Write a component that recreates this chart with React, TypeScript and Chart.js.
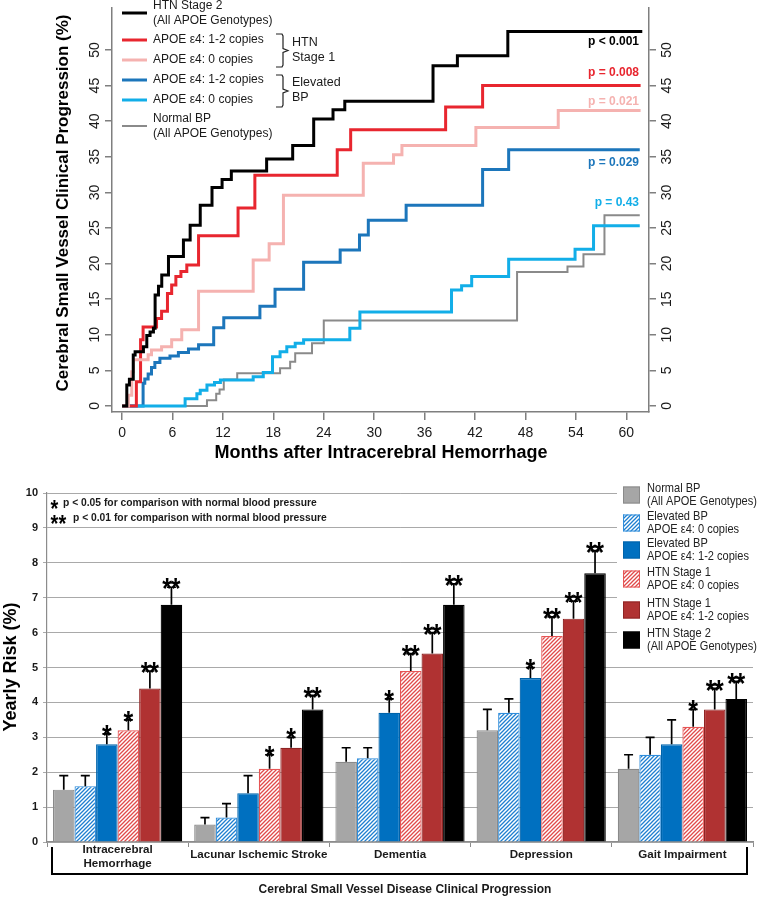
import React, { useEffect, useRef } from 'react';
import { Chart, registerables } from 'chart.js';

Chart.register(...registerables);

const FONT = 'Arial, "Liberation Sans", Helvetica, sans-serif';
const W = 764;
const H = 899;
const TOP_H = 470;
const BOT_H = H - TOP_H;

// ---------------- Top panel (cumulative progression, step curves) ----------------
const monthTicks = [0, 6, 12, 18, 24, 30, 36, 42, 48, 54, 60];
const pctTicks = [0, 5, 10, 15, 20, 25, 30, 35, 40, 45, 50];

const htn2Months = [0, 0.56, 0.87, 1.33, 1.55, 2.54, 2.94, 3.33, 3.73, 3.93, 4.33, 4.72, 5.52, 7.3, 8.1, 9.3, 10.7, 11.9, 13.0, 17.2, 20.3, 22.8, 25.1, 26.5, 37.0, 39.9, 45.9, 61.9];
const htn2Pct = [0, 2.95, 3.75, 7.16, 7.6, 8.3, 9.9, 10.4, 10.9, 15.6, 16.8, 18.4, 21.0, 23.3, 25.4, 28.2, 30.7, 31.8, 33.0, 34.7, 36.6, 40.3, 41.6, 42.8, 47.8, 49.2, 52.6, 52.6];

const htn1CarMonths = [0, 1.7, 2.2, 2.5, 4.1, 4.7, 5.4, 5.9, 6.4, 7.0, 7.7, 9.1, 13.8, 15.8, 25.6, 27.2, 38.5, 42.9, 61.7];
const htn1CarPct = [0, 3.4, 9.3, 11.1, 12.3, 13.3, 15.8, 17.0, 18.2, 18.9, 19.8, 23.9, 27.8, 32.4, 36.0, 38.8, 42.0, 45.0, 45.0];

const htn1NonMonths = [0, 0.75, 1.15, 1.35, 3.1, 3.5, 4.7, 5.9, 7.1, 9.1, 15.6, 17.5, 19.2, 28.7, 32.3, 33.3, 42.1, 51.9, 61.7];
const htn1NonPct = [0, 1.5, 4.8, 6.5, 7.2, 7.85, 8.3, 9.3, 10.7, 16.1, 20.5, 22.8, 29.6, 34.1, 35.3, 36.6, 39.1, 41.5, 41.5];

const elevCarMonths = [0, 2.5, 2.7, 3.1, 3.5, 3.9, 4.5, 5.7, 6.7, 7.9, 9.1, 10.9, 12.1, 16.4, 18.2, 21.6, 25.95, 28.25, 29.3, 33.8, 42.9, 46.0, 61.6];
const elevCarPct = [0, 3.2, 3.8, 4.5, 5.4, 6.1, 6.7, 7.0, 7.5, 8.0, 8.6, 11.0, 12.4, 14.0, 16.4, 20.2, 21.9, 24.0, 26.1, 28.2, 33.2, 36.0, 36.0];

const elevNonMonths = [0, 7.5, 8.9, 9.3, 10.1, 11.0, 11.7, 15.6, 16.8, 17.9, 18.8, 19.6, 20.6, 21.6, 27.1, 28.3, 39.2, 40.4, 41.6, 46.0, 53.9, 56.1, 61.6];
const elevNonPct = [0, 1.0, 1.7, 2.2, 2.95, 3.3, 3.65, 4.1, 4.7, 6.9, 7.6, 8.3, 8.8, 9.3, 10.9, 13.2, 16.3, 16.9, 18.2, 20.6, 22.0, 25.3, 25.3];

const normalMonths = [0, 10.1, 11.2, 11.6, 12.1, 13.7, 18.8, 20.0, 20.6, 22.6, 24.0, 47.0, 53.0, 54.9, 57.4, 61.6];
const normalPct = [0, 0.8, 1.7, 2.3, 3.7, 4.6, 5.3, 6.2, 7.4, 8.8, 12.0, 18.8, 19.6, 21.3, 26.8, 26.8];

const C_BLACK = '#000000';
const C_RED = '#e8262f';
const C_PINK = '#f5b2b0';
const C_DBLUE = '#1c76bb';
const C_LBLUE = '#12aee8';
const C_GRAY = '#8a8a8a';

const topLegendLabels = [
  ['HTN Stage 2', '(All APOE Genotypes)'],
  ['APOE ε4: 1-2 copies'],
  ['APOE ε4: 0 copies'],
  ['APOE ε4: 1-2 copies'],
  ['APOE ε4: 0 copies'],
  ['Normal BP', '(All APOE Genotypes)'],
];
const topLegendColors = [C_BLACK, C_RED, C_PINK, C_DBLUE, C_LBLUE, C_GRAY];
const pValueLabels = ['p < 0.001', 'p = 0.008', 'p = 0.021', 'p = 0.029', 'p = 0.43'];
const pValueColors = [C_BLACK, C_RED, C_PINK, C_DBLUE, C_LBLUE];

// ---------------- Bottom panel (yearly risk bars) ----------------
const categories = ['Intracerebral Hemorrhage', 'Lacunar Ischemic Stroke', 'Dementia', 'Depression', 'Gait Impairment'];
const categoryLines = [['Intracerebral', 'Hemorrhage'], ['Lacunar Ischemic Stroke'], ['Dementia'], ['Depression'], ['Gait Impairment']];
const riskTicks = [0, 1, 2, 3, 4, 5, 6, 7, 8, 9, 10];

const normalRisk = [1.5, 0.5, 2.3, 3.2, 2.1];
const normalErr = [1.9, 0.7, 2.7, 3.8, 2.5];
const elevNonRisk = [1.6, 0.7, 2.4, 3.7, 2.5];
const elevNonErr = [1.9, 1.1, 2.7, 4.1, 3.0];
const elevCarRisk = [2.8, 1.4, 3.7, 4.7, 2.8];
const elevCarErr = [3.1, 1.9, 4.1, 5.0, 3.5];
const htn1NonRisk = [3.2, 2.1, 4.9, 5.9, 3.3];
const htn1NonErr = [3.5, 2.5, 5.4, 6.45, 3.8];
const htn1CarRisk = [4.4, 2.7, 5.4, 6.4, 3.8];
const htn1CarErr = [4.9, 3.0, 6.0, 6.9, 4.4];
const htn2Risk = [6.8, 3.8, 6.8, 7.7, 4.1];
const htn2Err = [7.3, 4.2, 7.4, 8.35, 4.6];

const normalSig = ['', '', '', '', ''];
const elevNonSig = ['', '', '', '', ''];
const elevCarSig = ['*', '', '*', '*', ''];
const htn1NonSig = ['*', '*', '**', '**', '*'];
const htn1CarSig = ['**', '*', '**', '**', '**'];
const htn2Sig = ['**', '**', '**', '**', '**'];

const barLegendLabels = [
  ['Normal BP', '(All APOE Genotypes)'],
  ['Elevated BP', 'APOE ε4: 0 copies'],
  ['Elevated BP', 'APOE ε4: 1-2 copies'],
  ['HTN Stage 1', 'APOE ε4: 0 copies'],
  ['HTN Stage 1', 'APOE ε4: 1-2 copies'],
  ['HTN Stage 2', '(All APOE Genotypes)'],
];
const noteStars = ['*', '**'];
const noteLines = ['p < 0.05 for comparison with normal blood pressure', 'p < 0.01 for comparison with normal blood pressure'];

function zip(xs: number[], ys: number[]) {
  return xs.map((x, i) => ({ x, y: ys[i] }));
}

function rotText(ctx: CanvasRenderingContext2D, text: string, x: number, y: number) {
  ctx.save();
  ctx.translate(x, y);
  ctx.rotate(-Math.PI / 2);
  ctx.textAlign = 'center';
  ctx.textBaseline = 'middle';
  ctx.fillText(text, 0, 0);
  ctx.restore();
}

// asterisk marks: each glyph drawn on its own, (cx, bottom) = centre-bottom of the group
function drawStars(ctx: CanvasRenderingContext2D, s: string, cx: number, bottom: number, size: number, gap: number) {
  const n = s.length;
  ctx.save();
  ctx.font = `bold ${size}px ${FONT}`;
  ctx.textAlign = 'center';
  ctx.textBaseline = 'alphabetic';
  ctx.fillStyle = '#000';
  const sy = 1.2;
  for (let k = 0; k < n; k++) {
    const x = cx + (k - (n - 1) / 2) * gap;
    ctx.save();
    ctx.translate(x, bottom + 0.42 * size * sy);
    ctx.scale(1, sy);
    ctx.fillText('*', 0, 0);
    ctx.restore();
  }
  ctx.restore();
}

function makeHatch(ctx: CanvasRenderingContext2D, color: string) {
  const s = 4;
  const c = document.createElement('canvas');
  c.width = s;
  c.height = s;
  const g = c.getContext('2d')!;
  g.fillStyle = '#ffffff';
  g.fillRect(0, 0, s, s);
  g.strokeStyle = color;
  g.lineWidth = 1.3;
  g.beginPath();
  g.moveTo(-1, s + 1);
  g.lineTo(s + 1, -1);
  g.moveTo(-1, 1);
  g.lineTo(1, -1);
  g.moveTo(s - 1, s + 1);
  g.lineTo(s + 1, s - 1);
  g.stroke();
  return ctx.createPattern(c, 'repeat')!;
}

const topDecor = {
  id: 'topDecor',
  afterDraw(chart: any) {
    const { ctx, scales } = chart;
    const xs = scales.x;
    const ys = scales.y;
    ctx.save();
    ctx.fillStyle = '#1a1a1a';
    ctx.font = `14px ${FONT}`;
    for (const t of ys.ticks) {
      const y = ys.getPixelForValue(t.value);
      rotText(ctx, String(t.value), 95, y);
      rotText(ctx, String(t.value), 667, y);
    }
    ctx.textAlign = 'center';
    ctx.textBaseline = 'middle';
    for (const t of xs.ticks) {
      ctx.fillText(String(t.value), xs.getPixelForValue(t.value), 433);
    }
    ctx.fillStyle = '#000';
    ctx.font = `bold 18px ${FONT}`;
    ctx.fillText('Months after Intracerebral Hemorrhage', 381, 453);
    ctx.font = `bold 17px ${FONT}`;
    rotText(ctx, 'Cerebral Small Vessel Clinical Progression (%)', 63, 203);

    // legend
    const rows = [13, 40, 60, 80, 100, 126];
    ctx.font = `12px ${FONT}`;
    ctx.textAlign = 'left';
    ctx.textBaseline = 'middle';
    topLegendLabels.forEach((lines, i) => {
      const y = rows[i];
      ctx.strokeStyle = topLegendColors[i];
      ctx.lineWidth = i === 5 ? 2 : 3;
      ctx.beginPath();
      ctx.moveTo(122, y);
      ctx.lineTo(147, y);
      ctx.stroke();
      ctx.fillStyle = '#1a1a1a';
      if (lines.length === 1) ctx.fillText(lines[0], 153, y);
      else {
        ctx.fillText(lines[0], 153, y - 7.5);
        ctx.fillText(lines[1], 153, y + 7.5);
      }
    });
    // braces
    const brace = (y0: number, y1: number) => {
      const ym = (y0 + y1) / 2;
      ctx.strokeStyle = '#222';
      ctx.lineWidth = 1.2;
      ctx.beginPath();
      ctx.moveTo(276, y0);
      ctx.lineTo(282, y0);
      ctx.lineTo(283, y0 + 2);
      ctx.lineTo(283, ym - 2);
      ctx.lineTo(288, ym);
      ctx.lineTo(283, ym + 2);
      ctx.lineTo(283, y1 - 2);
      ctx.lineTo(282, y1);
      ctx.lineTo(276, y1);
      ctx.stroke();
    };
    brace(34, 67);
    brace(75, 107);
    ctx.fillStyle = '#1a1a1a';
    ctx.font = `12.5px ${FONT}`;
    ctx.fillText('HTN', 292, 43);
    ctx.fillText('Stage 1', 292, 58);
    ctx.fillText('Elevated', 292, 83);
    ctx.fillText('BP', 292, 98);

    // p-values
    const pY = [42, 73, 102, 163, 203];
    ctx.font = `bold 12px ${FONT}`;
    ctx.textAlign = 'right';
    pValueLabels.forEach((p, i) => {
      ctx.fillStyle = pValueColors[i];
      ctx.fillText(p, 639, pY[i]);
    });
    ctx.restore();
  },
};

const barDecor = {
  id: 'barDecor',
  afterDatasetsDraw(chart: any) {
    const { ctx, scales } = chart;
    const ys = scales.y;
    ctx.save();
    chart.data.datasets.forEach((ds: any, i: number) => {
      const meta = chart.getDatasetMeta(i);
      meta.data.forEach((bar: any, j: number) => {
        const x = bar.x;
        const yTop = ys.getPixelForValue(ds.data[j]);
        const yErr = ys.getPixelForValue(ds.errHigh[j]);
        ctx.strokeStyle = '#000';
        ctx.lineWidth = 1.7;
        ctx.beginPath();
        ctx.moveTo(x, yTop);
        ctx.lineTo(x, yErr);
        ctx.moveTo(x - 4.5, yErr);
        ctx.lineTo(x + 4.5, yErr);
        ctx.stroke();
        const s = ds.sig[j];
        if (s) drawStars(ctx, s, x, yErr - 1.5, 25, 8.4);
      });
    });
    ctx.restore();
  },
  afterDraw(chart: any) {
    const { ctx, scales } = chart;
    const xs = scales.x;
    const ys = scales.y;
    ctx.save();
    // y tick labels
    ctx.fillStyle = '#1a1a1a';
    ctx.font = `bold 11px ${FONT}`;
    ctx.textAlign = 'right';
    ctx.textBaseline = 'middle';
    for (const t of ys.ticks) ctx.fillText(String(t.value), 38, ys.getPixelForValue(t.value));
    // y title
    ctx.fillStyle = '#000';
    ctx.font = `bold 18px ${FONT}`;
    rotText(ctx, 'Yearly Risk (%)', 11, 197);
    // category labels
    ctx.font = `bold 11.6px ${FONT}`;
    ctx.textAlign = 'center';
    ctx.textBaseline = 'middle';
    ctx.fillStyle = '#1a1a1a';
    categoryLines.forEach((lines, j) => {
      const x = xs.getPixelForValue(j);
      if (lines.length === 1) ctx.fillText(lines[0], x, 385);
      else {
        ctx.fillText(lines[0], x, 380);
        ctx.fillText(lines[1], x, 394);
      }
    });
    // bracket
    ctx.strokeStyle = '#000';
    ctx.lineWidth = 2;
    ctx.beginPath();
    ctx.moveTo(52, 377);
    ctx.lineTo(52, 404);
    ctx.lineTo(747, 404);
    ctx.lineTo(747, 377);
    ctx.stroke();
    ctx.font = `bold 12px ${FONT}`;
    ctx.fillText('Cerebral Small Vessel Disease Clinical Progression', 405, 420);

    // significance note
    drawStars(ctx, noteStars[0], 54.5, 37, 20, 8);
    drawStars(ctx, noteStars[1], 58.5, 52, 20, 8);
    ctx.fillStyle = '#1a1a1a';
    ctx.textAlign = 'left';
    ctx.textBaseline = 'middle';
    ctx.font = `bold 10.3px ${FONT}`;
    ctx.fillText(noteLines[0], 63, 33);
    ctx.fillText(noteLines[1], 73, 48);

    // legend
    ctx.fillStyle = '#ffffff';
    ctx.fillRect(617, 10, 147, 176);
    const rows = [25, 53, 80, 109, 140, 170];
    chart.data.datasets.forEach((ds: any, i: number) => {
      const y = rows[i];
      ctx.fillStyle = ds.backgroundColor;
      ctx.fillRect(623, y - 8.5, 17, 17);
      ctx.strokeStyle = ds.borderColor;
      ctx.lineWidth = 1;
      ctx.strokeRect(623.5, y - 8, 16, 16);
      const lines = barLegendLabels[i];
      ctx.save();
      ctx.translate(647, y);
      ctx.scale(0.85, 1);
      ctx.fillStyle = '#222';
      ctx.font = `13px ${FONT}`;
      ctx.textAlign = 'left';
      ctx.textBaseline = 'middle';
      ctx.fillText(lines[0], 0, -6.5);
      ctx.fillText(lines[1], 0, 6.5);
      ctx.restore();
    });
    ctx.restore();
  },
};

export default function App() {
  const topRef = useRef<HTMLCanvasElement>(null);
  const botRef = useRef<HTMLCanvasElement>(null);

  useEffect(() => {
    const axisGray = '#7f7f7f';
    const topSeries = [
      { label: 'HTN Stage 2', m: htn2Months, p: htn2Pct, color: C_BLACK, w: 3 },
      { label: 'HTN Stage 1, APOE ε4: 0 copies', m: htn1NonMonths, p: htn1NonPct, color: C_PINK, w: 3 },
      { label: 'HTN Stage 1, APOE ε4: 1-2 copies', m: htn1CarMonths, p: htn1CarPct, color: C_RED, w: 3 },
      { label: 'Elevated BP, APOE ε4: 0 copies', m: elevNonMonths, p: elevNonPct, color: C_LBLUE, w: 3 },
      { label: 'Elevated BP, APOE ε4: 1-2 copies', m: elevCarMonths, p: elevCarPct, color: C_DBLUE, w: 3 },
      { label: 'Normal BP', m: normalMonths, p: normalPct, color: C_GRAY, w: 2 },
    ];
    const rAxis = (pos: string, width: number) => ({
      type: 'linear',
      position: pos,
      min: -0.85,
      max: 55.9,
      afterBuildTicks: (s: any) => {
        s.ticks = pctTicks.map((v) => ({ value: v }));
      },
      afterFit: (s: any) => {
        s.width = width;
      },
      ticks: { display: false },
      grid: { drawOnChartArea: false, drawTicks: true, tickLength: 7, color: axisGray, lineWidth: 1.5 },
      border: { display: true, color: axisGray, width: 1.5 },
    });
    const top = new Chart(topRef.current!, {
      type: 'line',
      data: {
        datasets: topSeries.map((s) => ({
          label: s.label,
          data: zip(s.m, s.p),
          borderColor: s.color,
          backgroundColor: s.color,
          borderWidth: s.w,
          stepped: true,
          pointRadius: 0,
          fill: false,
          tension: 0,
          borderCapStyle: 'butt',
          borderJoinStyle: 'miter',
        })),
      },
      options: {
        responsive: false,
        animation: false,
        events: [],
        devicePixelRatio: 1,
        layout: { padding: { top: 8, left: 0, right: 0, bottom: 0 } },
        plugins: { legend: { display: false }, tooltip: { enabled: false } },
        scales: {
          x: {
            type: 'linear',
            min: -1.2,
            max: 62.7,
            afterBuildTicks: (s: any) => {
              s.ticks = monthTicks.map((v) => ({ value: v }));
            },
            afterFit: (s: any) => {
              s.height = TOP_H - 412;
            },
            ticks: { display: false },
            grid: { drawOnChartArea: false, drawTicks: true, tickLength: 8, color: axisGray, lineWidth: 1.5 },
            border: { display: true, color: axisGray, width: 1.5 },
          },
          y: rAxis('left', 112),
          y2: rAxis('right', W - 649),
        },
      } as any,
      plugins: [topDecor],
    } as any);

    const ctx = botRef.current!.getContext('2d')!;
    const blueHatch = makeHatch(ctx, '#1f7fd0');
    const redHatch = makeHatch(ctx, '#e04a4a');
    const barSeries = [
      { values: normalRisk, err: normalErr, sig: normalSig, fill: '#a6a6a6', border: '#8a8a8a' },
      { values: elevNonRisk, err: elevNonErr, sig: elevNonSig, fill: blueHatch, border: '#2f8ddb' },
      { values: elevCarRisk, err: elevCarErr, sig: elevCarSig, fill: '#0070c0', border: '#0063aa' },
      { values: htn1NonRisk, err: htn1NonErr, sig: htn1NonSig, fill: redHatch, border: '#e65555' },
      { values: htn1CarRisk, err: htn1CarErr, sig: htn1CarSig, fill: '#b03232', border: '#8e2424' },
      { values: htn2Risk, err: htn2Err, sig: htn2Sig, fill: '#000000', border: '#000000' },
    ];
    const bot = new Chart(botRef.current!, {
      type: 'bar',
      data: {
        labels: categories,
        datasets: barSeries.map((s, i) => ({
          label: barLegendLabels[i].join(' '),
          data: s.values,
          errHigh: s.err,
          sig: s.sig,
          backgroundColor: s.fill,
          borderColor: s.border,
          borderWidth: 1.2,
          barPercentage: 1,
          categoryPercentage: 0.915,
        })),
      },
      options: {
        responsive: false,
        animation: false,
        events: [],
        devicePixelRatio: 1,
        layout: { padding: { top: 23, right: W - 753, left: 0, bottom: 0 } },
        plugins: { legend: { display: false }, tooltip: { enabled: false } },
        scales: {
          x: {
            type: 'category',
            afterFit: (s: any) => {
              s.height = BOT_H - 372;
            },
            ticks: { display: false },
            grid: { display: true, offset: true, drawOnChartArea: false, drawTicks: true, tickLength: 5, color: '#8c8c8c', lineWidth: 1 },
            border: { display: true, color: '#8c8c8c', width: 1.2 },
          },
          y: {
            type: 'linear',
            min: 0,
            max: 10,
            afterBuildTicks: (s: any) => {
              s.ticks = riskTicks.map((v) => ({ value: v }));
            },
            afterFit: (s: any) => {
              s.width = 47;
            },
            ticks: { display: false },
            grid: { color: '#a9a9a9', lineWidth: 1, drawTicks: true, tickLength: 4 },
            border: { display: true, color: '#8c8c8c', width: 1.2 },
          },
        },
      } as any,
      plugins: [barDecor],
    } as any);

    return () => {
      top.destroy();
      bot.destroy();
    };
  }, []);

  return (
    <div style={{ position: 'absolute', left: 0, top: 0, width: W, height: H, background: '#ffffff' }}>
      <canvas ref={topRef} width={W} height={TOP_H} style={{ position: 'absolute', left: 0, top: 0, display: 'block' }} />
      <canvas ref={botRef} width={W} height={BOT_H} style={{ position: 'absolute', left: 0, top: TOP_H, display: 'block' }} />
    </div>
  );
}
